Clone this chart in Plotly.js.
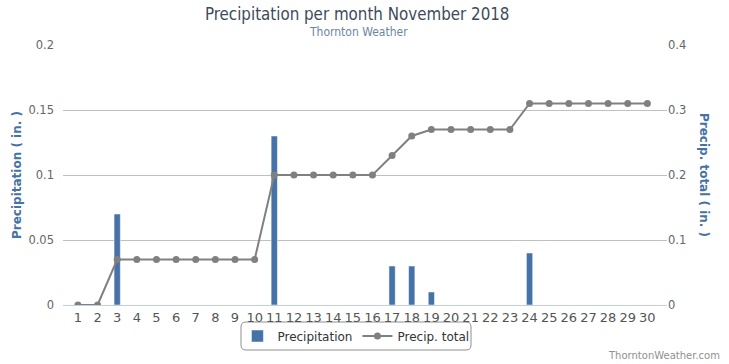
<!DOCTYPE html>
<html><head><meta charset="utf-8">
<script src="https://cdn.plot.ly/plotly-3.0.1.min.js"></script>
<style>body{margin:0;padding:0;background:#fff}#chart{width:729px;height:364px}</style>
</head><body><div id="chart"></div>
<script>
var days = [1,2,3,4,5,6,7,8,9,10,11,12,13,14,15,16,17,18,19,20,21,22,23,24,25,26,27,28,29,30];
var precip = [0,0,0.07,0,0,0,0,0,0,0,0.13,0,0,0,0,0,0.03,0.03,0.01,0,0,0,0,0.04,0,0,0,0,0,0];
var total = [0,0,0.07,0.07,0.07,0.07,0.07,0.07,0.07,0.07,0.20,0.20,0.20,0.20,0.20,0.20,0.23,0.26,0.27,0.27,0.27,0.27,0.27,0.31,0.31,0.31,0.31,0.31,0.31,0.31];
var leftTicks = [0,0.05,0.1,0.15,0.2];
var leftLabels = ['0','0.05','0.1','0.15','0.2'];
var rightTicks = [0,0.1,0.2,0.3,0.4];
var rightLabels = ['0','0.1','0.2','0.3','0.4'];

var fnt = 'Verdana, "DejaVu Sans", sans-serif';
var cond = '"DejaVu Sans Condensed", "Liberation Sans Narrow", sans-serif';
var traces = [
  {type:'bar', x:days, y:precip, name:'Precipitation', width:0.32,
   marker:{color:'#4572A7', line:{color:'#ffffff', width:0.5}}, yaxis:'y'},
  {type:'scatter', mode:'lines+markers', x:days, y:total, name:'Precip. total', yaxis:'y2',
   line:{color:'#808080', width:2}, marker:{color:'#808080', size:7}}
];
function px(x){return ((x-63)/604);} function py(y){return ((305-y)/260);}
var rr = (function(){
  var x0=241,x1=471,y0=322,y1=350,r=5;
  function P(x,y){return px(x).toFixed(4)+','+py(y).toFixed(4);}
  return 'M '+P(x0+r,y0)+' L '+P(x1-r,y0)+' Q '+P(x1,y0)+' '+P(x1,y0+r)+
         ' L '+P(x1,y1-r)+' Q '+P(x1,y1)+' '+P(x1-r,y1)+
         ' L '+P(x0+r,y1)+' Q '+P(x0,y1)+' '+P(x0,y1-r)+
         ' L '+P(x0,y0+r)+' Q '+P(x0,y0)+' '+P(x0+r,y0)+' Z';
})();
var layout = {
  width:729, height:364, autosize:false,
  margin:{l:63, r:62, t:45, b:59, autoexpand:false},
  paper_bgcolor:'#ffffff', plot_bgcolor:'#ffffff',
  showlegend:true,
  title:{text:'Precipitation per month November 2018', x:0.49, xanchor:'center', yref:'container', y:(364-14)/364, yanchor:'middle',
    font:{family:cond, size:16.8, color:'#3E4A5A'}},
  xaxis:{range:[0.24,31.0], tickmode:'array', tickvals:days, ticktext:days.map(String),
    showgrid:false, zeroline:false, showline:true, linecolor:'#C0D0E0', linewidth:1,
    ticks:'', tickfont:{family:fnt, size:13, color:'#555555'}, fixedrange:true},
  yaxis:{range:[0,0.2], tickmode:'array', tickvals:leftTicks, ticktext:leftLabels,
    showgrid:true, gridcolor:'#C0C0C0', gridwidth:1, zeroline:false, showline:false,
    tickfont:{family:fnt, size:11.5, color:'#666666'}, ticklabelstandoff:8},
  yaxis2:{range:[0,0.4], overlaying:'y', side:'right', tickmode:'array', tickvals:rightTicks, ticktext:rightLabels,
    showgrid:false, zeroline:false, showline:false,
    tickfont:{family:fnt, size:11.5, color:'#666666'}},
  legend:{orientation:'h', x:0.485, xanchor:'center', yref:'container', y:(364-336)/364, yanchor:'middle',
    font:{family:fnt, size:12, color:'#333333'}, bgcolor:'rgba(0,0,0,0)'},
  annotations:[
    {text:'Thornton Weather', xref:'paper', yref:'paper', x:0.49, y:py(32), xanchor:'center', yanchor:'middle',
     showarrow:false, font:{family:cond, size:12, color:'#6D869F'}},
    {text:'<b>Precipitation ( in. )</b>', xref:'paper', yref:'paper', x:px(17), y:0.5, xanchor:'center', yanchor:'middle',
     textangle:-90, showarrow:false, font:{family:fnt, size:12, color:'#4572A7'}},
    {text:'<b>Precip. total ( in. )</b>', xref:'paper', yref:'paper', x:px(704), y:0.5, xanchor:'center', yanchor:'middle',
     textangle:90, showarrow:false, font:{family:fnt, size:12, color:'#4572A7'}},
    {text:'ThorntonWeather.com', xref:'paper', yref:'paper', x:px(722), y:py(355), xanchor:'right', yanchor:'middle',
     showarrow:false, font:{family:fnt, size:10, color:'#909090'}}
  ],
  shapes:[
    {type:'path', xref:'paper', yref:'paper', layer:'below', path:rr,
     line:{color:'#909090', width:1}, fillcolor:'rgba(0,0,0,0)'}
  ]
};
Plotly.newPlot('chart', traces, layout, {displayModeBar:false, staticPlot:true});
</script></body></html>
